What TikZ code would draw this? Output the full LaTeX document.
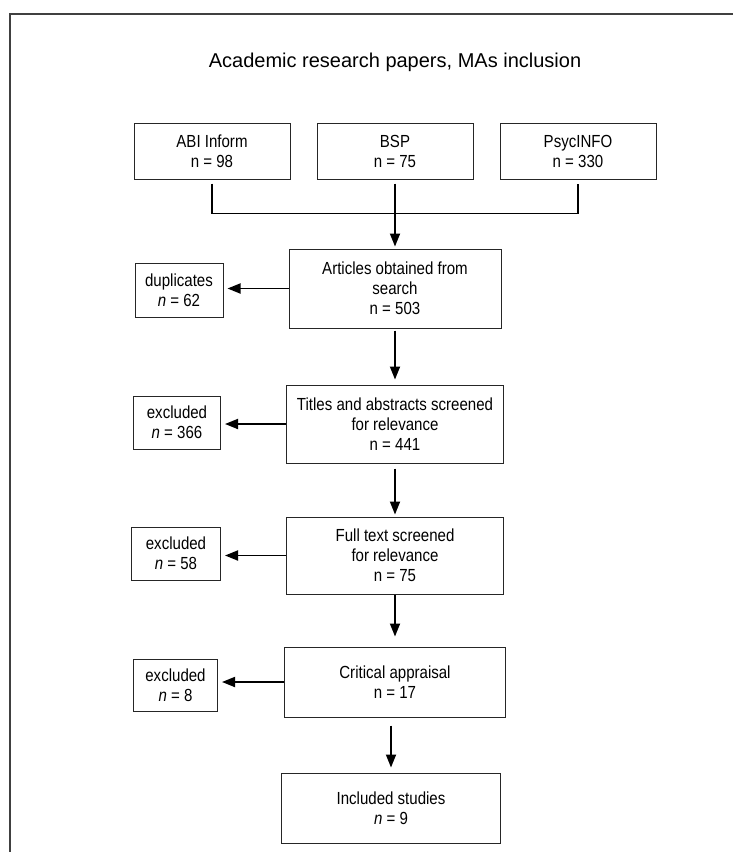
\documentclass[tikz,border=0pt]{standalone}
\usepackage{fontspec}
\setmainfont{Liberation Sans}
\newfontfamily\narrowfont{Liberation Sans}[FakeStretch=0.86]
\usetikzlibrary{arrows.meta}

\tikzstyle{stagebox} = [rectangle, minimum width=217pt, minimum height=77pt, inner sep=0pt, text centered, align=center, draw=black!85, line width=1pt, font=\narrowfont\fontsize{17.5}{20}\selectfont]
\tikzstyle{sourcebox} = [stagebox, minimum width=156pt, minimum height=56pt]
\tikzstyle{sidebox} = [stagebox, minimum width=88pt, minimum height=53pt]
\tikzstyle{arrow} = [line width=1.8pt, -{Triangle[length=13pt,width=10pt]}]
\tikzstyle{joinline} = [line width=1.3pt]

\begin{document}
\begin{tikzpicture}[node distance=130pt]
	\useasboundingbox (0,0) rectangle (733pt,-852pt);
	\draw [line width=1.4pt, black!75] (10pt,-852pt) -- (10pt,-14pt) -- (733pt,-14pt);
	\node (title) at (395pt,-62pt) [font=\fontsize{20}{24}\selectfont] {Academic research papers, MAs inclusion};

	\node (bsp) at (395pt,-151pt) [sourcebox] {BSP\\n = 75};
	\node (abi) [sourcebox, left of=bsp, xshift=-53pt] {ABI Inform\\n = 98};
	\node (psyc) [sourcebox, right of=bsp, xshift=53pt] {PsycINFO\\n = 330};
	\node (art) [stagebox, below of=bsp, yshift=-7.5pt, minimum width=212pt, minimum height=79pt] {Articles obtained from\\search\\n = 503};
	\node (titles) [stagebox, below of=art, yshift=-5.5pt, minimum height=78pt] {Titles and abstracts screened\\for relevance\\n = 441};
	\node (full) [stagebox, below of=titles, yshift=-1.5pt] {Full text screened\\for relevance\\n = 75};
	\node (crit) [stagebox, below of=full, yshift=3.5pt, minimum width=221pt, minimum height=70pt] {Critical appraisal\\n = 17};
	\node (incl) [stagebox, below of=crit, yshift=4pt, xshift=-4pt, minimum width=219pt, minimum height=70pt] {Included studies\\\textit{n} = 9};

	\node (dup) [sidebox, left of=art, xshift=-86pt, yshift=-1.5pt, minimum height=54pt] {duplicates\\\textit{n} = 62};
	\node (exa) [sidebox, left of=titles, xshift=-88pt, yshift=1.5pt, minimum width=87pt] {excluded\\\textit{n} = 366};
	\node (exb) [sidebox, left of=full, xshift=-89pt, yshift=2pt, minimum width=89pt] {excluded\\\textit{n} = 58};
	\node (exc) [sidebox, left of=crit, xshift=-89.5pt, yshift=-3pt, minimum width=84pt, minimum height=52pt] {excluded\\\textit{n} = 8};

	\coordinate (abijoin) at ([yshift=-34pt]abi.south);
	\coordinate (psycjoin) at ([yshift=-34pt]psyc.south);

	\draw [joinline] ([yshift=-4pt]abi.south) -- (abijoin) -- (psycjoin) -- ([yshift=-4pt]psyc.south);
	\draw [arrow] ([yshift=-4pt]bsp.south) -- ([yshift=2pt]art.north);
	\draw [arrow] ([yshift=-2pt]art.south) -- ([yshift=5pt]titles.north);
	\draw [arrow] ([yshift=-5pt]titles.south) -- ([yshift=2pt]full.north);
	\draw [arrow] (full.south) -- ([yshift=10pt]crit.north);
	\draw [arrow] ([yshift=-8pt]crit.south -| incl.north) -- ([yshift=5pt]incl.north);

	\draw [arrow, shorten >=4pt] (art.west) -- (art.west -| dup.east);
	\draw [arrow, shorten >=4pt] (titles.west) -- (titles.west -| exa.east);
	\draw [arrow, shorten >=4pt] (full.west) -- (full.west -| exb.east);
	\draw [arrow, shorten >=4pt] (crit.west) -- (crit.west -| exc.east);
\end{tikzpicture}
\end{document}
